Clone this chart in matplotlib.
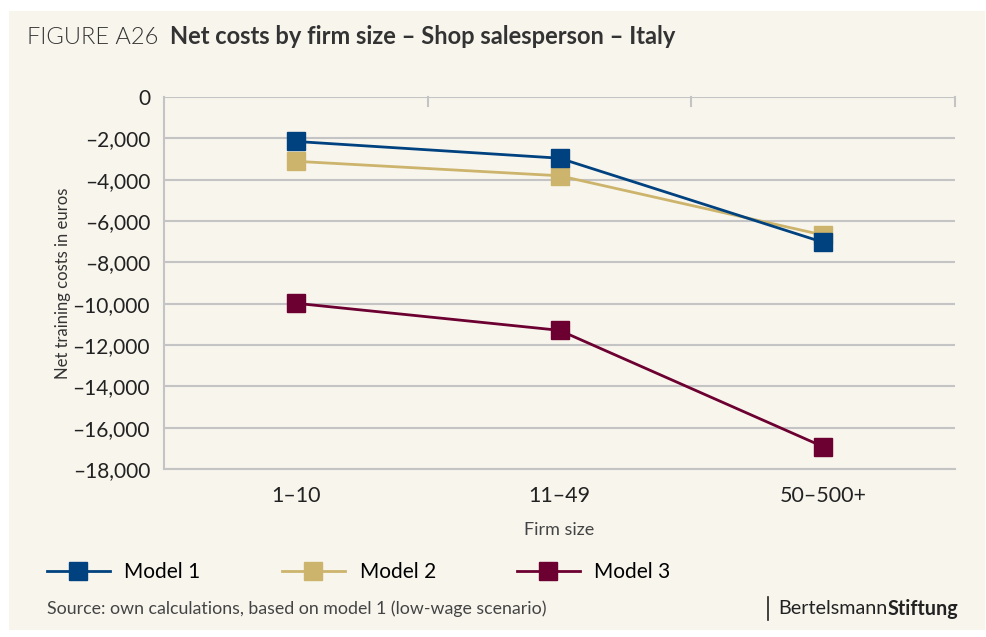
import matplotlib
matplotlib.use('Agg')
import matplotlib.pyplot as plt
from matplotlib.patches import Rectangle
from matplotlib.ticker import FuncFormatter

plt.rcParams['font.family'] = ['Lato', 'DejaVu Sans']

# data
firm_sizes = ['1–10', '11–49', '50–500+']
model1 = [-2150, -2960, -7030]
model2 = [-3110, -3810, -6680]
model3 = [-9980, -11290, -16920]
y_ticks = list(range(0, -18001, -2000))

bg = '#f8f5ed'
grid_col = '#c4c4c4'
colors = {'Model 1': '#00427f', 'Model 2': '#cdb46c', 'Model 3': '#6c0030'}

fig = plt.figure(figsize=(9.86, 6.37), dpi=100)
fig.patch.set_facecolor('white')
fig.patches.append(Rectangle((9 / 986, 7 / 637), 976 / 986, 619 / 637,
                             transform=fig.transFigure, facecolor=bg,
                             edgecolor='none', zorder=-10))

ax = fig.add_axes([0.1663, 0.2637, 0.8023, 0.584])
ax.set_facecolor(bg)

x = list(range(len(firm_sizes)))
ax.plot(x, model2, color=colors['Model 2'], lw=2, marker='s', ms=12.5,
        label='Model 2', zorder=3)
ax.plot(x, model1, color=colors['Model 1'], lw=2, marker='s', ms=12.5,
        label='Model 1', zorder=4)
ax.plot(x, model3, color=colors['Model 3'], lw=2, marker='s', ms=12.5,
        label='Model 3', zorder=3)

ax.set_xlim(-0.5, 2.5)
ax.set_ylim(-18000, 0)
ax.set_yticks(y_ticks)
ax.yaxis.set_major_formatter(FuncFormatter(
    lambda v, p: '0' if v == 0 else f'{v:,.0f}'.replace('-', '–')))
ax.set_xticks(x)
ax.set_xticklabels(firm_sizes)
ax.grid(axis='y', color=grid_col, lw=1.5, zorder=0)
ax.tick_params(axis='y', length=0, labelsize=15, pad=10, colors='#222222')
ax.tick_params(axis='x', length=0, labelsize=15.5, pad=12, colors='#222222')

for side in ['top', 'right']:
    ax.spines[side].set_visible(False)
ax.spines['left'].set_color(grid_col)
ax.spines['left'].set_linewidth(1.5)
ax.spines['bottom'].set_color(grid_col)
ax.spines['bottom'].set_linewidth(1.5)

# small tick marks hanging from the zero line at category boundaries
for tx in [0.5, 1.5, 2.5]:
    ax.plot([tx, tx], [0, -450], color=grid_col, lw=1.5, clip_on=False, zorder=1)

ax.set_ylabel('Net training costs in euros', fontsize=12, color='#333333', labelpad=1)
ax.set_xlabel('Firm size', fontsize=13, color='#444444', labelpad=12)

fig.text(27 / 986, 1 - 37 / 637, 'FIGURE A26', fontsize=17, fontweight=300,
         color='#333333', va='center')
fig.text(170 / 986, 1 - 37 / 637, 'Net costs by firm size – Shop salesperson – Italy',
         fontsize=17, fontweight='bold', color='#333333', va='center')

handles, labels = ax.get_legend_handles_labels()
order = [1, 0, 2]
leg = fig.legend([handles[i] for i in order], [labels[i] for i in order],
                 loc='center left', bbox_to_anchor=(47 / 986, 1 - 572 / 637),
                 ncol=3, frameon=False, fontsize=15, handlelength=3.0,
                 columnspacing=3.9, handletextpad=0.72, borderpad=0,
                 borderaxespad=0)

fig.text(47 / 986, 1 - 609 / 637,
         'Source: own calculations, based on model 1 (low-wage scenario)',
         fontsize=12.8, color='#444444', va='center')
fig.lines.append(plt.Line2D([768 / 986, 768 / 986], [1 - 597 / 637, 1 - 620 / 637],
                            transform=fig.transFigure, color='#222222', lw=1.2))
t1 = fig.text(778 / 986, 1 - 609 / 637, 'Bertelsmann', fontsize=14.2,
              color='#222222', va='center')
fig.canvas.draw()
bb = t1.get_window_extent(renderer=fig.canvas.get_renderer())
fig.text(bb.x1 / fig.bbox.width, 1 - 609 / 637, 'Stiftung', fontsize=14.2,
         fontweight='bold', color='#222222', va='center')

fig.savefig('out.png', dpi=100, facecolor=fig.get_facecolor())
